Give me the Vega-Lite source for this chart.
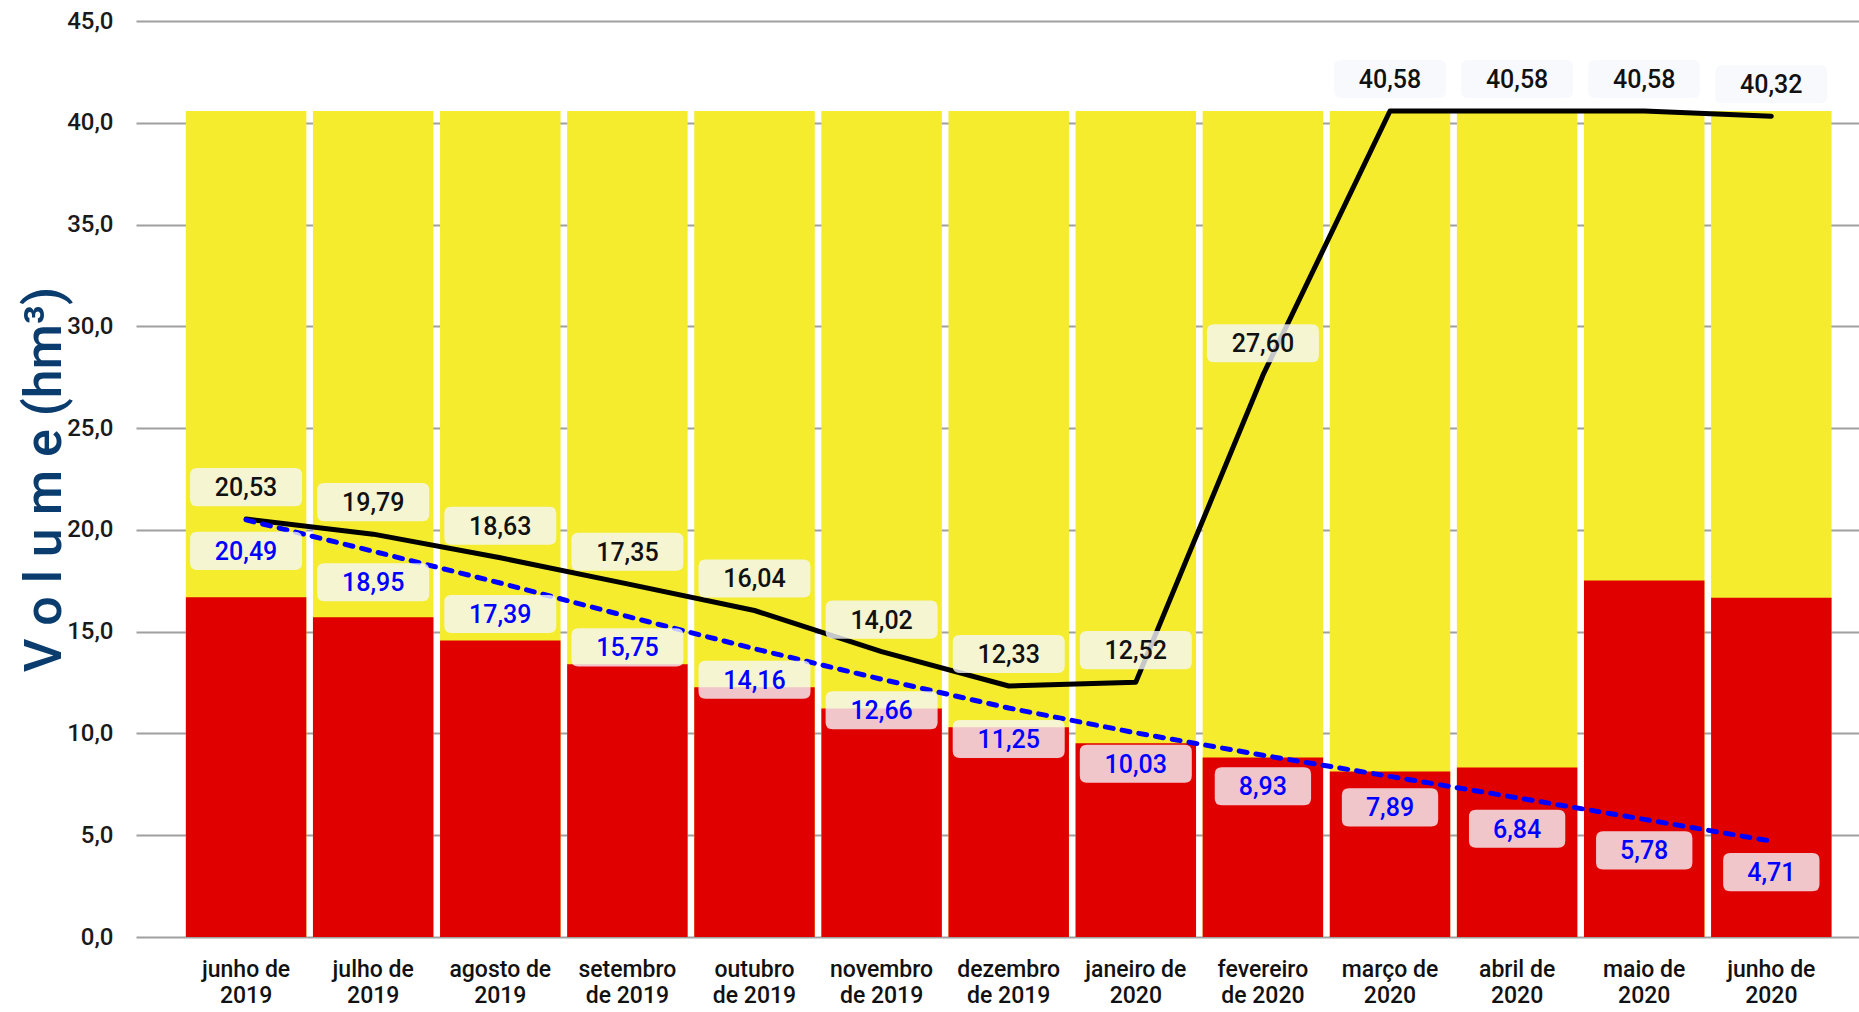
{
  "$schema": "https://vega.github.io/schema/vega-lite/v6.json",
  "autosize": {"type": "none"},
  "padding": {"left": 136, "top": 21, "right": 0, "bottom": 75},
  "width": 1723,
  "height": 916,
  "background": "white",
  "config": {
    "locale": {"number": {"decimal": ",", "thousands": ".", "grouping": [3], "currency": ["", ""]}},
    "view": {"stroke": null},
    "font": "Roboto",
    "axisY": {
      "labelFontSize": 24,
      "labelFontWeight": 500,
      "labelColor": "#1a1a1a",
      "labelFont": "Roboto",
      "labelPadding": 23,
      "gridColor": "#a0a0a0",
      "gridWidth": 2,
      "domain": false,
      "ticks": false
    }
  },
  "data": {
    "values": [
      {"mes": "junho de 2019", "capacidade": 40.58, "vermelho": 16.69, "preto": 20.53, "azul": 20.49},
      {"mes": "julho de 2019", "capacidade": 40.58, "vermelho": 15.71, "preto": 19.79, "azul": 18.95},
      {"mes": "agosto de 2019", "capacidade": 40.58, "vermelho": 14.56, "preto": 18.63, "azul": 17.39},
      {"mes": "setembro de 2019", "capacidade": 40.58, "vermelho": 13.40, "preto": 17.35, "azul": 15.75},
      {"mes": "outubro de 2019", "capacidade": 40.58, "vermelho": 12.27, "preto": 16.04, "azul": 14.16},
      {"mes": "novembro de 2019", "capacidade": 40.58, "vermelho": 11.22, "preto": 14.02, "azul": 12.66},
      {"mes": "dezembro de 2019", "capacidade": 40.58, "vermelho": 10.31, "preto": 12.33, "azul": 11.25},
      {"mes": "janeiro de 2020", "capacidade": 40.58, "vermelho": 9.52, "preto": 12.52, "azul": 10.03},
      {"mes": "fevereiro de 2020", "capacidade": 40.58, "vermelho": 8.82, "preto": 27.60, "azul": 8.93},
      {"mes": "março de 2020", "capacidade": 40.58, "vermelho": 8.13, "preto": 40.58, "azul": 7.89},
      {"mes": "abril de 2020", "capacidade": 40.58, "vermelho": 8.33, "preto": 40.58, "azul": 6.84},
      {"mes": "maio de 2020", "capacidade": 40.58, "vermelho": 17.51, "preto": 40.58, "azul": 5.78},
      {"mes": "junho de 2020", "capacidade": 40.58, "vermelho": 16.67, "preto": 40.32, "azul": 4.71}
    ]
  },
  "encoding": {
    "x": {
      "field": "mes",
      "type": "nominal",
      "sort": null,
      "title": null,
      "scale": {"paddingInner": 0.052, "paddingOuter": 0.304, "align": 0.645},
      "axis": {
        "domain": false,
        "ticks": false,
        "labelAngle": 0,
        "labelPadding": 21,
        "labelFontSize": 23,
        "labelFontWeight": 500,
        "labelColor": "#111111",
        "labelFont": "Roboto",
        "labelLineHeight": 26,
        "labelLimit": 200,
        "labelExpr": "indexof(['setembro','outubro','novembro','dezembro','fevereiro'], split(datum.label,' ')[0]) >= 0 ? [split(datum.label,' ')[0], replace(datum.label, split(datum.label,' ')[0] + ' ', '')] : [slice(datum.label, 0, -5), slice(datum.label, -4)]"
      }
    }
  },
  "layer": [
    {
      "mark": {"type": "bar", "color": "#f4ec2c"},
      "encoding": {
        "y": {
          "field": "capacidade",
          "type": "quantitative",
          "scale": {"domain": [0, 45], "nice": false},
          "title": "V o l u m e (hm³)",
          "axis": {
            "values": [0, 5, 10, 15, 20, 25, 30, 35, 40, 45],
            "format": ".1f",
            "labelFontSize": 24,
            "titleFont": "Roboto",
            "titleFontSize": 52,
            "titleFontWeight": 500,
            "titleColor": "#0b3c6e",
            "titleAngle": 270,
            "titleAlign": "center",
            "titleBaseline": "alphabetic",
            "titleX": -76,
            "titleY": 458
          }
        }
      }
    },
    {
      "mark": {"type": "bar", "color": "#e10000"},
      "encoding": {"y": {"field": "vermelho", "type": "quantitative"}}
    },
    {
      "mark": {"type": "line", "color": "#000000", "strokeWidth": 5, "strokeCap": "round", "strokeJoin": "round"},
      "encoding": {"y": {"field": "preto", "type": "quantitative"}}
    },
    {
      "mark": {"type": "line", "color": "#0000ff", "strokeWidth": 5, "strokeDash": [8, 9], "strokeCap": "round", "strokeJoin": "round"},
      "encoding": {"y": {"field": "azul", "type": "quantitative"}}
    },
    {
      "mark": {"type": "point", "filled": true, "fill": "#f5f8fc", "fillOpacity": 0.8, "strokeWidth": 0, "size": 12544, "yOffset": -32},
      "encoding": {
        "y": {"field": "preto", "type": "quantitative"},
        "shape": {"value": "M-0.875,-0.34L0.875,-0.34Q1,-0.34 1,-0.215L1,0.215Q1,0.34 0.875,0.34L-0.875,0.34Q-1,0.34 -1,0.215L-1,-0.215Q-1,-0.34 -0.875,-0.34Z"}
      }
    },
    {
      "mark": {"type": "point", "filled": true, "fill": "#f5f8fc", "fillOpacity": 0.8, "strokeWidth": 0, "size": 12544, "yOffset": 31},
      "encoding": {
        "y": {"field": "azul", "type": "quantitative"},
        "shape": {
          "condition": {"test": "datum.azul < 10", "value": "M-0.735,-0.34L0.735,-0.34Q0.86,-0.34 0.86,-0.215L0.86,0.215Q0.86,0.34 0.735,0.34L-0.735,0.34Q-0.86,0.34 -0.86,0.215L-0.86,-0.215Q-0.86,-0.34 -0.735,-0.34Z"},
          "value": "M-0.875,-0.34L0.875,-0.34Q1,-0.34 1,-0.215L1,0.215Q1,0.34 0.875,0.34L-0.875,0.34Q-1,0.34 -1,0.215L-1,-0.215Q-1,-0.34 -0.875,-0.34Z"
        }
      }
    },
    {
      "mark": {"type": "text", "font": "Roboto", "fontSize": 25, "fontWeight": 500, "color": "#111111", "baseline": "middle", "dy": -31},
      "encoding": {
        "y": {"field": "preto", "type": "quantitative"},
        "text": {"field": "preto", "type": "quantitative", "format": ".2f"}
      }
    },
    {
      "mark": {"type": "text", "font": "Roboto", "fontSize": 25, "fontWeight": 500, "color": "#0000ff", "baseline": "middle", "dy": 32},
      "encoding": {
        "y": {"field": "azul", "type": "quantitative"},
        "text": {"field": "azul", "type": "quantitative", "format": ".2f"}
      }
    }
  ]
}
